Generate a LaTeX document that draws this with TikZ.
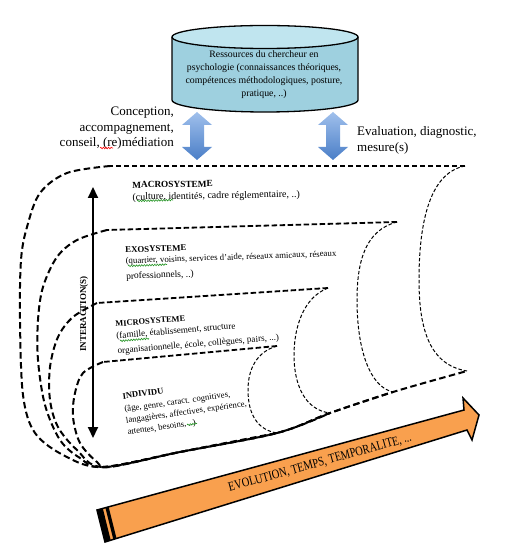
\documentclass[tikz,border=0pt]{standalone}
\usepackage{fontspec}
\setmainfont{Liberation Serif}
\usetikzlibrary{arrows.meta,decorations.pathmorphing}
\definecolor{cylbody}{RGB}{158,208,223}
\definecolor{cyltop}{RGB}{192,229,239}
\definecolor{orangeA}{RGB}{249,160,78}
\definecolor{blueTop}{RGB}{160,192,236}
\definecolor{blueBot}{RGB}{74,126,199}
\definecolor{squig}{RGB}{40,150,40}
\begin{document}
\begin{tikzpicture}[x=1pt,y=-1pt,
  layer/.style={line width=2pt, dash pattern=on 6.5pt off 3.5pt},
  toplayer/.style={line width=1.8pt, dash pattern=on 5.5pt off 2.5pt},
  rim/.style={line width=1pt, dash pattern=on 3.5pt off 2pt},
  bluearrow/.style={top color=blueTop, bottom color=blueBot},
  blk/.style={anchor=north west, align=left, inner sep=0pt},
  spell/.style={decorate, decoration={snake, amplitude=0.8pt, segment length=2.6pt}, line width=0.6pt, squig}
]
\useasboundingbox (0,0) rectangle (513,553);

% ---------- cylinder ----------
\fill[cylbody] (172,37) -- (172,100) arc[start angle=180, end angle=0, x radius=93, y radius=12] -- (358,37) -- cycle;
\draw[line width=1.3pt] (172,37) -- (172,100) arc[start angle=180, end angle=0, x radius=93, y radius=12] -- (358,37);
\filldraw[fill=cyltop, line width=1.3pt] (265,37) ellipse [x radius=93, y radius=11.5];
\node[align=center, font=\fontsize{9.8}{13}\selectfont] (res) at (264,75)
  {Ressources du chercheur en\\psychologie (connaissances théoriques,\\compétences méthodologiques, posture,\\pratique, ..)};

% ---------- blue double arrows ----------
\shade[bluearrow] (197,112) -- (212,125) -- (204,125) -- (204,147) -- (212,147) -- (197,160) -- (182,147) -- (190,147) -- (190,125) -- (182,125) -- cycle;
\shade[bluearrow] (333,112) -- (348,125) -- (340,125) -- (340,147) -- (348,147) -- (333,160) -- (318,147) -- (326,147) -- (326,125) -- (318,125) -- cycle;

\node[anchor=east, align=right, inner sep=0pt, font=\fontsize{13}{15.5}\selectfont] (concept) at (174,128.5)
  {Conception,\\accompagnement,\\conseil, (re)médiation};
\node[anchor=west, align=left, inner sep=0pt, font=\fontsize{13}{15.5}\selectfont] (eval) at (357,140.5)
  {Evaluation, diagnostic,\\mesure(s)};

% ---------- layers ----------
% macrosysteme
\draw[toplayer] (465,166) -- (110,166);
\draw[layer] plot[smooth, tension=0.55] coordinates {(110,166) (67,173) (40,193) (27,227) (21,260) (20,320) (23,395) (35,433) (65,456) (103,467) (180,452) (277,433) (330,413) (393,392) (467,371)};
\draw[rim] (465,166) .. controls (427,173) and (419,230) .. (419,280) .. controls (419,330) and (430,365) .. (467,371);
% exosysteme
\draw[toplayer] (397,222) -- (107,230);
\draw[layer] plot[smooth, tension=0.55] coordinates {(107,230) (77,240) (57,257) (43,287) (38,320) (38,360) (45,405) (60,440) (80,458) (103,467) (180,452) (277,433) (330,413) (393,392)};
\draw[rim] (397,222) .. controls (366,230) and (357,260) .. (357,300) .. controls (357,350) and (370,387) .. (393,392);
% microsysteme
\draw[toplayer] (328,288) -- (97,303);
\draw[layer] plot[smooth, tension=0.55] coordinates {(97,303) (73,317) (58,337) (50,367) (50,400) (58,427) (77,450) (103,467) (180,452) (277,433) (330,413)};
\draw[rim] (328,288) .. controls (302,298) and (294,330) .. (294,355) .. controls (294,385) and (305,410) .. (330,413);
% individu
\draw[toplayer] (277,346) -- (103,362);
\draw[layer] plot[smooth, tension=0.55] coordinates {(103,362) (83,373) (75,393) (73,417) (80,443) (97,462) (110,467) (180,452) (277,433)};
\draw[rim] (277,346) .. controls (256,352) and (248,370) .. (248,390) .. controls (248,415) and (258,430) .. (277,433);

% ---------- interaction arrow ----------
\coordinate (itop) at (93,187);
\coordinate (ibot) at (93,438);
\draw[line width=2pt, {Triangle[length=11pt,width=10pt]}-{Triangle[length=11pt,width=10pt]}] (itop) -- (ibot);
\node[rotate=90, inner sep=0pt, font=\bfseries\fontsize{9}{10}\selectfont] (inter) at (84,314) {INTERACTION(S)};

% ---------- layer texts ----------
\node[blk, rotate=1, font=\fontsize{10}{12}\selectfont] (macro) at (132,181.8)
  {{\bfseries\fontsize{9.3}{12}\selectfont MACROSYSTEME}\\
   (culture, identités, cadre réglementaire, ..)};

\node[blk, rotate=2, font=\fontsize{8.8}{11}\selectfont] (exo) at (125,246.7)
  {{\bfseries\fontsize{8.8}{11}\selectfont EXOSYSTEME}\\
   (quartier, voisins, services d'aide, réseaux amicaux, réseaux\\[4.5pt]
   {\fontsize{9.5}{11}\selectfont professionnels, ..)}};

\node[blk, rotate=4.8, font=\fontsize{9.1}{12}\selectfont] (micro) at (115,321)
  {{\bfseries\fontsize{8.4}{12}\selectfont MICROSYSTEME}\\
   (famille, établissement, structure\\[3pt]
   organisationnelle, école, collègues, pairs, ...)};

\node[blk, rotate=8, font=\fontsize{8.7}{11.5}\selectfont] (indiv) at (122,393.3)
  {{\bfseries\fontsize{8.6}{11.5}\selectfont INDIVIDU}\\[1.5pt]
   (âge, genre, caract. cognitives,\\
   langagières, affectives, expérience,\\
   attentes, besoins, ..)};

% spell-check squiggles
\draw[spell] (137,201) -- (173,200);
\draw[spell] (128,266) -- (167,264.5);
\draw[spell] (120,341) -- (149,338.5);
\draw[spell] (187,425) -- (197,423.5);
\draw[spell, red] (100,148) -- (113,148);

% ---------- orange arrow ----------
\filldraw[fill=orangeA, line width=1.5pt, line join=miter] (97,510) -- (464,410) -- (463,398) -- (479,415) -- (472,440) -- (467,430) -- (105,542) -- cycle;
\fill[black] (97,510) -- (102.8,508.4) -- (110.7,540.2) -- (105,542) -- cycle;
\fill[black] (105.4,507.7) -- (108.6,506.8) -- (116.5,538.4) -- (113.3,539.4) -- cycle;
\node[rotate=15.5, inner sep=0pt, font=\fontsize{13}{15}\selectfont] (evol) at (320,463)
  {\scalebox{0.8}[1]{EVOLUTION, TEMPS, TEMPORALITE, ...}};
\end{tikzpicture}
\end{document}
